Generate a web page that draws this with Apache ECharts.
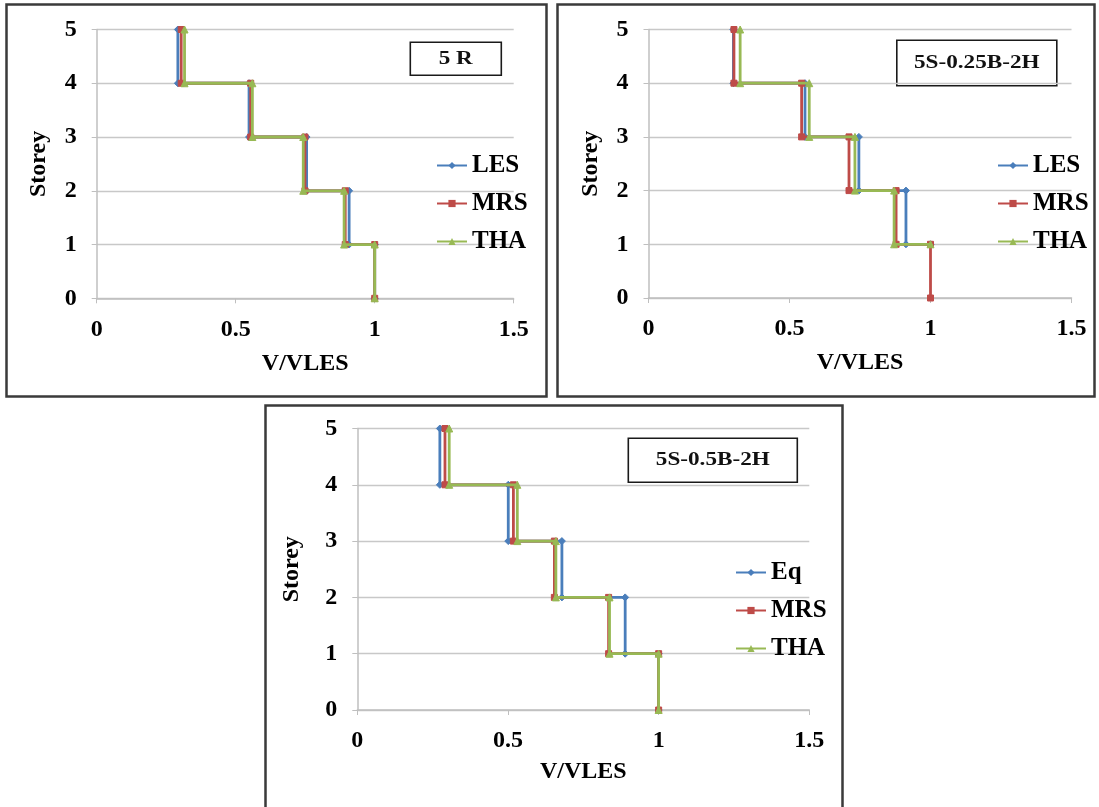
<!DOCTYPE html>
<html>
<head>
<meta charset="utf-8">
<script src="https://cdn.jsdelivr.net/npm/echarts@6/dist/echarts.min.js"></script>
<style>
html,body{margin:0;padding:0;background:#fff;}
#chart{width:1099px;height:807px;}
</style>
</head>
<body>
<div id="chart"></div>
<script>
// ---------- DATA ----------
// storey levels (top of each step), V/VLES value for each storey (5..1)
var storeys = [5, 4, 3, 2, 1];
var xTicks = [0, 0.5, 1, 1.5];
var yTicks = [0, 1, 2, 3, 4, 5];

// Panel 1: "5 R"
var p1Title = '5 R';
var p1Names = ['LES', 'MRS', 'THA'];
var p1LES = [0.292, 0.548, 0.755, 0.908, 1.0];
var p1MRS = [0.304, 0.554, 0.749, 0.894, 1.0];
var p1THA = [0.316, 0.560, 0.743, 0.890, 1.0];
var p1Base = [0, 0, 0];      // lowest storey reached by each series

// Panel 2: "5S-0.25B-2H"
var p2Title = '5S-0.25B-2H';
var p2Names = ['LES', 'MRS', 'THA'];
var p2LES = [0.301, 0.555, 0.746, 0.913, 1.0];
var p2MRS = [0.303, 0.543, 0.711, 0.878, 1.0];
var p2THA = [0.325, 0.570, 0.732, 0.871, 1.0];
var p2Base = [1, 0, 1];

// Panel 3: "5S-0.5B-2H"
var p3Title = '5S-0.5B-2H';
var p3Names = ['Eq', 'MRS', 'THA'];
var p3Eq  = [0.274, 0.501, 0.679, 0.889, 1.0];
var p3MRS = [0.291, 0.518, 0.654, 0.834, 1.0];
var p3THA = [0.305, 0.531, 0.659, 0.837, 1.0];
var p3Base = [0, 0, 0];

// ---------- STYLE ----------
var FONT = '"Liberation Serif","Times New Roman",serif';
var colors = ['#4A7EBB', '#BE4B48', '#98B954'];
var symbols = ['diamond', 'rect', 'triangle'];
var symSizes = [7, 6, 7];

function steps(vals, base) {
  var pts = [];
  for (var i = 0; i < vals.length; i++) {
    var top = storeys[i];
    var bottom = Math.max(top - 1, base);
    pts.push([vals[i], top]);
    if (bottom !== top) pts.push([vals[i], bottom]);
  }
  return pts;
}

var panels = [
  {names: p1Names, data: [p1LES, p1MRS, p1THA], base: p1Base, title: p1Title,
   grid: {left: 96.7, top: 29.5, width: 417, height: 268.8},
   yNameGap: 46, xNameGap: 53,
   legend: {left: 436, top: 153},
   box: {x: 409.5, y: 41.5, w: 91, h: 33}},
  {names: p2Names, data: [p2LES, p2MRS, p2THA], base: p2Base, title: p2Title,
   grid: {left: 648.5, top: 29.5, width: 423, height: 268.5},
   yNameGap: 46, xNameGap: 53,
   legend: {left: 997, top: 153},
   box: {x: 896, y: 39.5, w: 160, h: 45.5}},
  {names: p3Names, data: [p3Eq, p3MRS, p3THA], base: p3Base, title: p3Title,
   grid: {left: 357.3, top: 428.5, width: 452, height: 281.5},
   yNameGap: 54, xNameGap: 50,
   legend: {left: 735, top: 560},
   box: {x: 627.5, y: 437.5, w: 169, h: 44}}
];

var option = {
  backgroundColor: '#fff',
  animation: false,
  grid: [], xAxis: [], yAxis: [], series: [], legend: [], graphic: []
};

var labelStyle = {fontFamily: FONT, fontWeight: 'bold', fontSize: 24, color: '#000'};

panels.forEach(function (p, k) {
  option.grid.push(Object.assign({containLabel: false}, p.grid));
  option.xAxis.push({
    type: 'value', gridIndex: k, min: xTicks[0], max: xTicks[xTicks.length - 1],
    interval: xTicks[1] - xTicks[0],
    name: 'V/VLES', nameLocation: 'middle', nameGap: p.xNameGap,
    nameTextStyle: {fontFamily: FONT, fontWeight: 'bold', fontSize: 24, color: '#000'},
    axisLine: {show: true, onZero: false, lineStyle: {color: '#BFBFBF', width: 1.5}},
    axisTick: {show: true, length: 5, lineStyle: {color: '#BFBFBF'}},
    axisLabel: Object.assign({margin: 19}, labelStyle),
    splitLine: {show: false}
  });
  option.yAxis.push({
    type: 'value', gridIndex: k, min: yTicks[0], max: yTicks[yTicks.length - 1],
    interval: yTicks[1] - yTicks[0],
    name: 'Storey', nameLocation: 'middle', nameGap: p.yNameGap, nameRotate: 90,
    nameTextStyle: {fontFamily: FONT, fontWeight: 'bold', fontSize: 24, color: '#000'},
    axisLine: {show: true, onZero: false, lineStyle: {color: '#BFBFBF', width: 1.5}},
    axisTick: {show: true, length: 5, lineStyle: {color: '#BFBFBF'}},
    axisLabel: Object.assign({margin: 20}, labelStyle),
    splitLine: {show: true, lineStyle: {color: '#C8C8C8', width: 1.3}}
  });
  var legendData = [];
  p.names.forEach(function (nm, j) {
    var sid = 'p' + k + '_' + nm;
    legendData.push(sid);
    option.series.push({
      type: 'line', id: sid, name: sid, xAxisIndex: k, yAxisIndex: k,
      data: steps(p.data[j], p.base[j]),
      symbol: symbols[j], symbolSize: symSizes[j], showSymbol: true,
      lineStyle: {color: colors[j], width: 2.8},
      itemStyle: {color: colors[j], borderColor: colors[j]},
      z: 2 + j
    });
  });
  option.legend.push({
    orient: 'vertical', left: p.legend.left, top: p.legend.top, padding: 0,
    data: legendData, itemWidth: 30, itemHeight: 9, itemGap: 13,
    selectedMode: false,
    formatter: function (n) { return n.split('_')[1]; },
    textStyle: {fontFamily: FONT, fontWeight: 'bold', fontSize: 25, color: '#000', lineHeight: 24}
  });
  option.graphic.push({
    type: 'group', left: p.box.x, top: p.box.y, z: 10,
    children: [
      {type: 'rect', shape: {x: 0, y: 0, width: p.box.w, height: p.box.h},
       style: {fill: '#fff', stroke: '#1a1a1a', lineWidth: 1.6}},
      {type: 'text', x: p.box.w / 2, y: p.box.h / 2, scaleX: 1.22,
       style: {text: p.title, fontFamily: FONT, fontWeight: 'bold', fontSize: 19,
               fill: '#111', align: 'center', verticalAlign: 'middle'}}
    ]
  });
});

// panel frames
option.graphic.push(
  {type: 'rect', z: 0, shape: {x: 6.5, y: 4.5, width: 540, height: 392}, style: {fill: 'none', stroke: '#3a3a3a', lineWidth: 2.5}},
  {type: 'rect', z: 0, shape: {x: 557.5, y: 4.5, width: 537, height: 392}, style: {fill: 'none', stroke: '#3a3a3a', lineWidth: 2.5}},
  {type: 'rect', z: 0, shape: {x: 265.5, y: 405.5, width: 577, height: 420}, style: {fill: 'none', stroke: '#3a3a3a', lineWidth: 2.5}}
);

var chart = echarts.init(document.getElementById('chart'), null, {renderer: 'canvas'});
chart.setOption(option);
</script>
</body>
</html>
